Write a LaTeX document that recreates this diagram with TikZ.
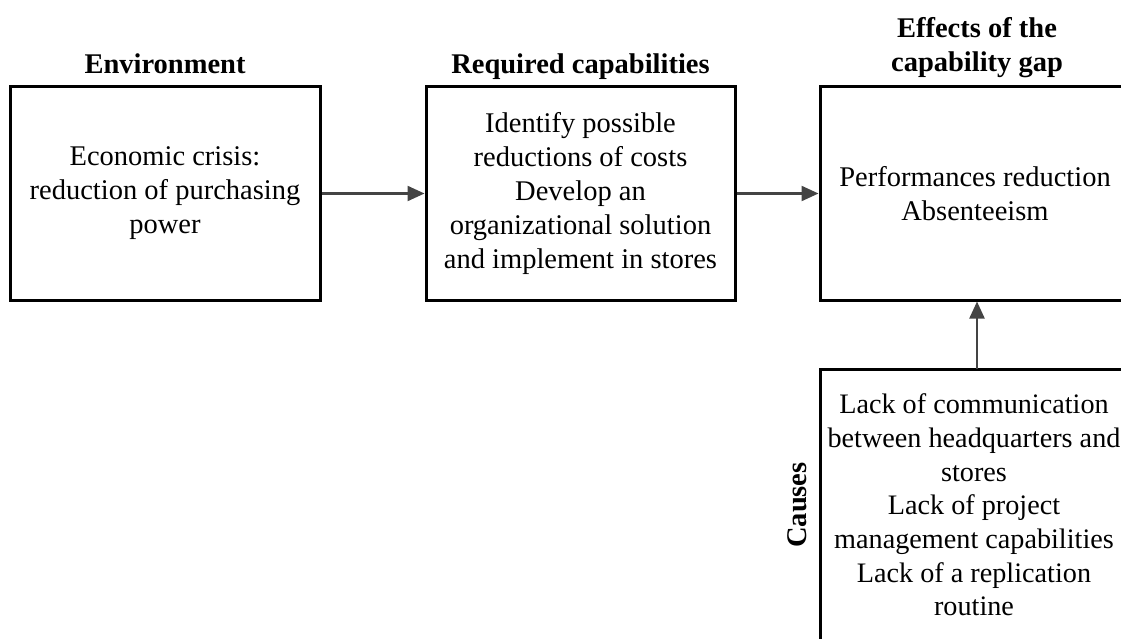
\documentclass[tikz,border=0pt]{standalone}
\usepackage{fontspec}
\setmainfont{Liberation Serif}
\usetikzlibrary{arrows.meta}
\definecolor{arr}{HTML}{444444}
\begin{document}
\begin{tikzpicture}[x=1pt,y=-1pt,
  box/.style={draw=black,line width=3pt,align=center,inner sep=0pt,
    font=\fontsize{28.5}{34}\selectfont},
  ttl/.style={font=\bfseries\fontsize{28.5}{34}\selectfont,align=center,inner sep=0pt},
  conn/.style={draw=arr,line width=2.2pt,-{Triangle[length=17pt,width=15pt]}}]
\useasboundingbox (0,0) rectangle (1121,639);
\clip (0,0) rectangle (1121,639);
\node[box,minimum width=310pt,minimum height=213pt] (b1) at (165,193.5)
  {Economic crisis:\\reduction of purchasing\\power};
\node[box,minimum width=309pt,minimum height=213pt] (b2) at (580.5,193.5)
  {Identify possible\\reductions of costs\\Develop an\\organizational solution\\and implement in stores};
\node[box,minimum width=310pt,minimum height=213pt] (b3) at (975,193.5)
  {Performances reduction\\Absenteeism};
\node[box,minimum width=308pt,minimum height=272pt,font=\fontsize{28.2}{33.7}\selectfont] (b4) at (974,505)
  {Lack of communication\\between headquarters and\\stores\\Lack of project\\management capabilities\\Lack of a replication\\routine};
\node[ttl,anchor=base] (t1) at (165,74) {Environment};
\node[ttl,anchor=base] (t2) at (580.5,74) {Required capabilities};
\node[ttl,anchor=base] (t3) at (977,38) {Effects of the};
\node[ttl,anchor=base] (t3b) at (977,72) {capability gap};
\node[ttl,rotate=90] (t4) at (797,505) {Causes};
\coordinate (up) at (977,369);
\draw[conn] (b1.east) -- (b2.west);
\draw[conn] (b2.east) -- (b3.west);
\draw[conn] (up) -- (up |- b3.south);
\end{tikzpicture}
\end{document}
